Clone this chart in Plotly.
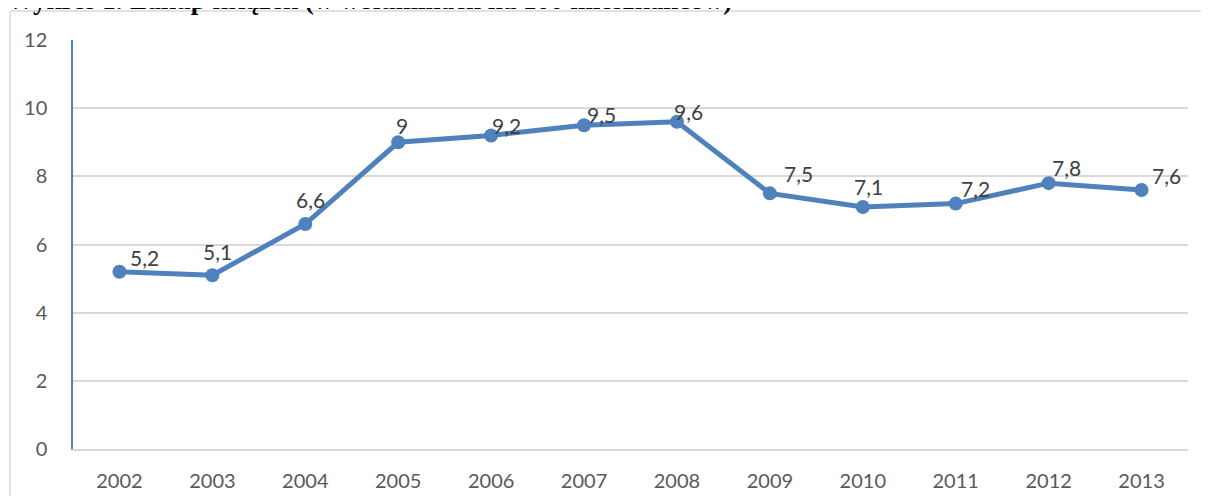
import plotly.graph_objects as go

years = ["2002", "2003", "2004", "2005", "2006", "2007", "2008", "2009", "2010", "2011", "2012", "2013"]
values = [5.2, 5.1, 6.6, 9.0, 9.2, 9.5, 9.6, 7.5, 7.1, 7.2, 7.8, 7.6]
labels = [f"{v:g}".replace(".", ",") for v in values]
title = "Wykres 1. Zakup książek (w woluminach na 100 mieszkańców)"

# pixel offsets of each data label from its point (style only)
label_dx = [25, 5, 5, 4, 15, 17, 12, 29, 6, 20, 18, 25]
label_dy = [14, 24, 25, 17, 10, 11, 10, 20, 21, 15, 16, 14]

OFF = 8  # page body margin
W, H = 1209 - OFF, 504 - 2 * OFF
ml, mt = 73 - OFF, 40 - OFF
pw = 1115
ph = 409
mr = W - ml - pw
mb = H - mt - ph

FONT = "Lato, Noto Sans, sans-serif"
TITLE_SIZE = 27

fig = go.Figure()
fig.add_trace(go.Scatter(
    x=years, y=values, mode="lines+markers",
    line=dict(color="#4F81BD", width=5),
    marker=dict(color="#4F81BD", size=14),
    hoverinfo="skip", showlegend=False,
))
for i, (y, t) in enumerate(zip(values, labels)):
    fig.add_annotation(x=i, y=y, text=t, showarrow=False,
                       xshift=label_dx[i], yshift=label_dy[i],
                       font=dict(family=FONT, size=21, color="#404040"))

# title, mostly cropped at the top of the image (as in the reference)
fig.add_annotation(text=f"<b>{title}</b>", xref="paper", yref="paper",
                   x=(-3 - ml) / pw, y=1 + (mt + 8.5) / ph,
                   xanchor="left", yanchor="middle", showarrow=False,
                   font=dict(family="Liberation Serif, serif", size=TITLE_SIZE, color="black"))

# outer chart frame: only its top and left edges fall inside the image
fx0 = (2 - ml) / pw
fy1 = 1 + (mt - 3) / ph
fig.add_shape(type="line", xref="paper", yref="paper",
              x0=fx0, x1=(W + 20 - ml) / pw, y0=fy1, y1=fy1,
              line=dict(color="#D9D9D9", width=1.5), layer="below")
fig.add_shape(type="line", xref="paper", yref="paper",
              x0=fx0, x1=fx0, y0=fy1, y1=-(H + 20 - mt - ph) / ph,
              line=dict(color="#D9D9D9", width=1.5), layer="below")

fig.update_layout(
    width=W, height=H,
    margin=dict(l=ml, r=mr, t=mt, b=mb, pad=0, autoexpand=False),
    paper_bgcolor="white", plot_bgcolor="white",
    xaxis=dict(type="category", range=[-0.5, 11.5], showgrid=False, automargin=False,
               showline=True, linecolor="#D9D9D9", linewidth=1.5,
               ticks="", ticklabelstandoff=13,
               tickfont=dict(family=FONT, size=20, color="#595959")),
    yaxis=dict(range=[0, 12], dtick=2, showgrid=True, gridcolor="#D9D9D9", gridwidth=1.5,
               automargin=False,
               zeroline=False, showline=True, linecolor="#4F81BD", linewidth=1.5,
               ticks="", ticklabelstandoff=20,
               tickfont=dict(family=FONT, size=20, color="#595959")),
)
fig.write_html("out.html")
